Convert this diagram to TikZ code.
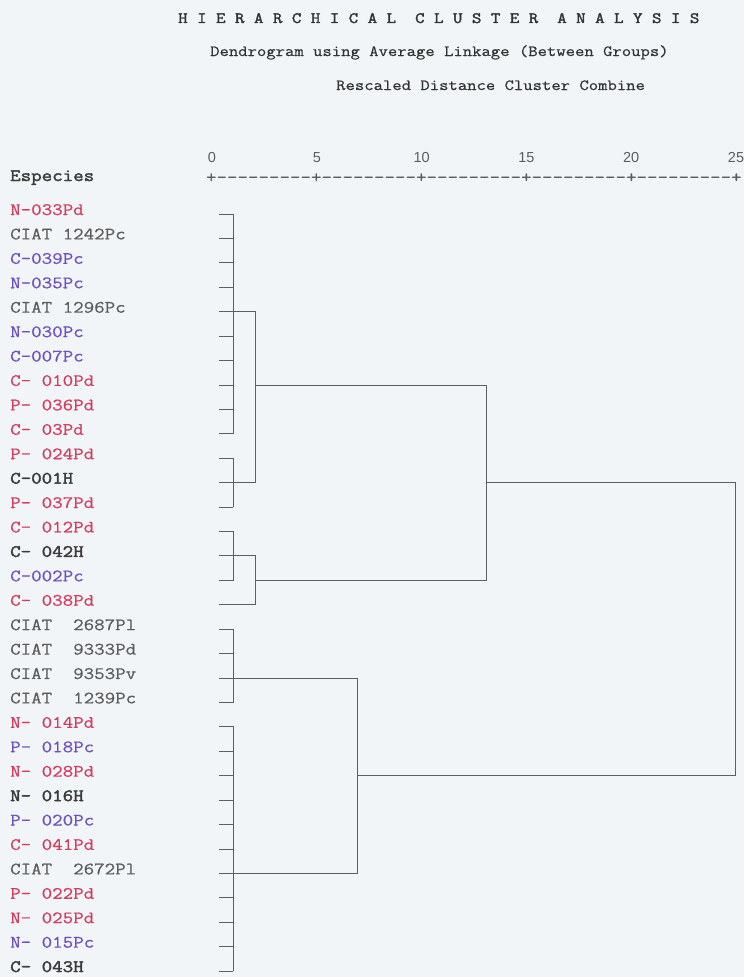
\documentclass[tikz,border=0pt]{standalone}
\usepackage{fontspec}
\usetikzlibrary{calc}
\setsansfont{Liberation Sans}
% typewriter faces, widened to the pitch of the printout
\newfontfamily\typew[FakeStretch=1.172,FakeBold=0.6]{Latin Modern Mono}
\newfontfamily\typewb[FakeStretch=1.172,FakeBold=2.2]{Latin Modern Mono}
\definecolor{paper}{HTML}{F2F5F7}
\definecolor{ink}{HTML}{333333}
\definecolor{linec}{HTML}{5E5E5E}
\definecolor{pd}{HTML}{D63C5E}
\definecolor{pc}{HTML}{6E50C2}
\definecolor{ciat}{HTML}{5C5C5C}
\definecolor{hb}{HTML}{3C3C3C}
\tikzset{
  lab/.style={anchor=base west, inner sep=0pt, font=\typew\fontsize{17.4}{20}\selectfont},
  labPd/.style={lab, text=pd},
  labPc/.style={lab, text=pc},
  labCiat/.style={lab, text=ciat},
  labH/.style={lab, text=hb, font=\typewb\fontsize{17.4}{20}\selectfont},
  head/.style={anchor=base west, inner sep=0pt, text=ink, font=\typew\fontsize{15.5}{18}\selectfont},
  headB/.style={head, font=\typewb\fontsize{15.7}{18}\selectfont},
  scalenum/.style={anchor=base, inner sep=0pt, text=ciat, font=\sffamily\fontsize{14.5}{16}\selectfont},
  branch/.style={draw=linec, line width=0.8pt, line cap=rect},
}
\begin{document}
\begin{tikzpicture}[x=1pt, y=-1pt]
  \useasboundingbox (0,0) rectangle (744,977);
  \fill[paper] (0,0) rectangle (744,977);

  % headings
  \node[headB] (title) at (178,23) {H I E R A R C H I C A L\ \ C L U S T E R\ \ A N A L Y S I S};
  \node[head] (sub) at (210,56) {Dendrogram using Average Linkage (Between Groups)};
  \node[head] (resc) at (336,90) {Rescaled Distance Cluster Combine};

  % distance scale
  \foreach \v [count=\k from 0] in {0,5,10,15,20,25}
    \node[scalenum] (n\v) at ({212+\k*104.8},162) {\v};
  \node[lab, text=ciat] (axis) at (205.8,182.5) {+---------+---------+---------+---------+---------+};
  \node[labH] (esp) at (10,181) {Especies};

  % row anchors (left end of each leaf line)
  \foreach \i in {1,...,32}
    \coordinate (t\i) at (219,{214+(\i-1)*24.42});

  % leaf labels
  \foreach \i/\s/\txt in {
     1/labPd/{N-033Pd}, 2/labCiat/{CIAT 1242Pc}, 3/labPc/{C-039Pc}, 4/labPc/{N-035Pc},
     5/labCiat/{CIAT 1296Pc}, 6/labPc/{N-030Pc}, 7/labPc/{C-007Pc}, 8/labPd/{C- 010Pd},
     9/labPd/{P- 036Pd}, 10/labPd/{C- 03Pd}, 11/labPd/{P- 024Pd}, 12/labH/{C-001H},
     13/labPd/{P- 037Pd}, 14/labPd/{C- 012Pd}, 15/labH/{C- 042H}, 16/labPc/{C-002Pc},
     17/labPd/{C- 038Pd}, 18/labCiat/{CIAT\ \ 2687Pl}, 19/labCiat/{CIAT\ \ 9333Pd}, 20/labCiat/{CIAT\ \ 9353Pv},
     21/labCiat/{CIAT\ \ 1239Pc}, 22/labPd/{N- 014Pd}, 23/labPc/{P- 018Pc}, 24/labPd/{N- 028Pd},
     25/labH/{N- 016H}, 26/labPc/{P- 020Pc}, 27/labPd/{C- 041Pd}, 28/labCiat/{CIAT\ \ 2672Pl},
     29/labPd/{P- 022Pd}, 30/labPd/{N- 025Pd}, 31/labPc/{N- 015Pc}, 32/labH/{C- 043H}}
    \node[\s] (l\i) at ($(t\i)+(-209,1)$) {\txt};

  % merge levels on the distance scale
  \coordinate (xA) at (233,0);
  \coordinate (xAB) at (255,0);
  \coordinate (xDE) at (357,0);
  \coordinate (xTop) at (486,0);
  \coordinate (xRoot) at (735,0);

  % leaf lines
  \foreach \i in {1,2,3,4,6,7,8,9,10,11,13,14,16,18,19,21,22,23,24,25,26,27,29,30,31,32}
    \draw[branch] (t\i) -- (t\i -| xA);
  \foreach \i in {5,12,15,17}
    \draw[branch] (t\i) -- (t\i -| xAB);
  \foreach \i in {20,28}
    \draw[branch] (t\i) -- (t\i -| xDE);

  % first-level brackets
  \draw[branch] (t1 -| xA) -- (t10 -| xA);
  \draw[branch] (t11 -| xA) -- (t13 -| xA);
  \draw[branch] (t14 -| xA) -- (t16 -| xA);
  \draw[branch] (t18 -| xA) -- (t21 -| xA);
  \draw[branch] (t22 -| xA) -- (t32 -| xA);

  % second-level brackets
  \draw[branch] (t5 -| xAB) -- (t12 -| xAB);
  \draw[branch] (t15 -| xAB) -- (t17 -| xAB);
  \draw[branch] (t8 -| xAB) -- (t8 -| xTop) -- (t16 -| xTop) -- (t16 -| xAB);
  \draw[branch] (t20 -| xDE) -- (t28 -| xDE);

  % root
  \draw[branch] (t12 -| xTop) -- (t12 -| xRoot) -- (t24 -| xRoot) -- (t24 -| xDE);
\end{tikzpicture}
\end{document}
